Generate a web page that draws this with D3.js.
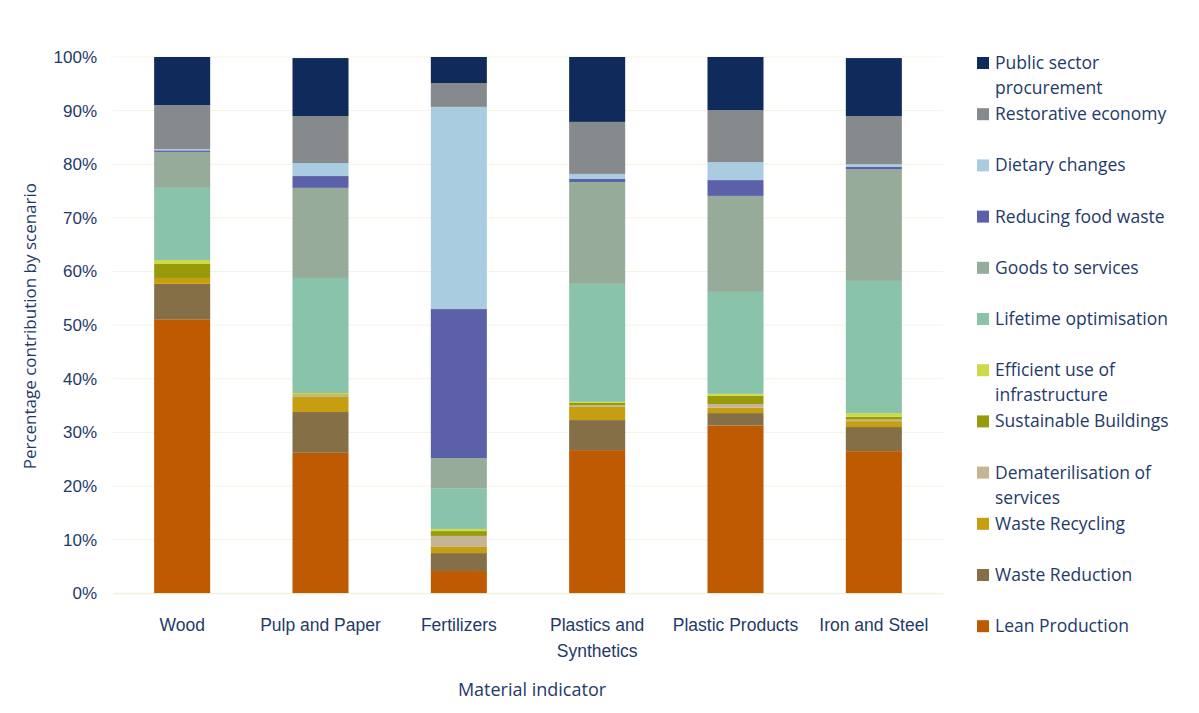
<!DOCTYPE html>
<html>
<head>
<meta charset="utf-8">
<script src="https://cdn.jsdelivr.net/npm/d3@7"></script>
<style>
  html, body { margin: 0; padding: 0; background: #ffffff; }
  svg { display: block; font-family: "Open Sans", Lato, sans-serif; }
</style>
</head>
<body>
<svg id="chart" width="1199" height="713"></svg>
<script>
// Material indicators on the x axis
const categories = ["Wood", "Pulp and Paper", "Fertilizers", "Plastics and Synthetics", "Plastic Products", "Iron and Steel"];

// Scenarios, stacked bottom to top
const scenarios = [
  "Lean Production", "Waste Reduction", "Waste Recycling", "Dematerilisation of services",
  "Sustainable Buildings", "Efficient use of infrastructure", "Lifetime optimisation",
  "Goods to services", "Reducing food waste", "Dietary changes", "Restorative economy",
  "Public sector procurement"
];

// Percentage contribution per scenario, one value per material indicator
const leanProduction        = [51.1, 26.2, 4.15, 26.7, 31.3, 26.5];
const wasteReduction        = [6.6, 7.6, 3.35, 5.6, 2.3, 4.5];
const wasteRecycling        = [1.1, 2.8, 1.15, 2.45, 1.0, 1.1];
const dematerialisation     = [0.0, 0.3, 2.05, 0.3, 0.7, 0.3];
const sustainableBuildings  = [2.6, 0.2, 0.9, 0.45, 1.5, 0.5];
const efficientInfra        = [0.75, 0.25, 0.4, 0.2, 0.4, 0.7];
const lifetimeOptimisation  = [13.45, 21.45, 7.6, 22.0, 19.0, 24.65];
const goodsToServices       = [6.7, 16.8, 5.6, 19.0, 17.9, 20.85];
const reducingFoodWaste     = [0.3, 2.2, 27.8, 0.55, 2.95, 0.4];
const dietaryChanges        = [0.25, 2.43, 37.7, 0.95, 3.35, 0.5];
const restorativeEconomy    = [8.2, 8.77, 4.45, 9.7, 9.7, 9.0];
const publicProcurement     = [8.95, 10.8, 4.85, 12.1, 9.9, 10.8];

// Y axis ticks
const yTicks = [0, 10, 20, 30, 40, 50, 60, 70, 80, 90, 100];

const seriesValues = [
  leanProduction, wasteReduction, wasteRecycling, dematerialisation,
  sustainableBuildings, efficientInfra, lifetimeOptimisation, goodsToServices,
  reducingFoodWaste, dietaryChanges, restorativeEconomy, publicProcurement
];

const colors = [
  "#BE5B02", "#856F47", "#C69E10", "#C6B594",
  "#979A0A", "#CDD94A", "#88C3AA", "#96AB9A",
  "#5B60A8", "#A9CCE0", "#868A8D", "#0F2B5B"
];

// Legend labels (line-broken where the text wraps)
const legendLines = {
  "Public sector procurement": ["Public sector", "procurement"],
  "Efficient use of infrastructure": ["Efficient use of", "infrastructure"],
  "Dematerilisation of services": ["Dematerilisation of", "services"]
};

const textColor = "#1F3A68";

const rows = categories.map((c, i) => {
  const r = { category: c };
  scenarios.forEach((s, j) => { r[s] = seriesValues[j][i]; });
  return r;
});

const stacked = d3.stack().keys(scenarios)(rows);

const svg = d3.select("#chart");
const margin = { left: 113, right: 256, top: 57, bottom: 120 };
const W = 1199, H = 713;

const x = d3.scaleBand()
  .domain(categories)
  .range([margin.left, W - margin.right])
  .paddingInner(0.595)
  .paddingOuter(0.2975);

const y = d3.scaleLinear()
  .domain([0, 100])
  .range([593.3, 57]);

// Gridlines
svg.append("g")
  .selectAll("line")
  .data(yTicks)
  .join("line")
  .attr("x1", margin.left)
  .attr("x2", W - margin.right)
  .attr("y1", d => y(d))
  .attr("y2", d => y(d))
  .attr("stroke", "#F4F4E2")
  .attr("stroke-width", 1);

// Stacked bars
svg.append("g")
  .selectAll("g")
  .data(stacked)
  .join("g")
  .attr("fill", (d, i) => colors[i])
  .selectAll("rect")
  .data(d => d)
  .join("rect")
  .attr("x", d => x(d.data.category))
  .attr("width", x.bandwidth())
  .attr("y", d => y(d[1]))
  .attr("height", d => Math.max(0, y(d[0]) - y(d[1])));

// Y axis
const yAxis = svg.append("g")
  .attr("transform", `translate(${margin.left},0)`)
  .call(d3.axisLeft(y).tickValues(yTicks).tickFormat(d => d + "%").tickSize(0).tickPadding(16));
yAxis.select(".domain").remove();
yAxis.selectAll("text")
  .attr("fill", textColor)
  .style("font-size", "17px");

// X axis
const xAxis = svg.append("g")
  .attr("transform", `translate(0,${y(0)})`)
  .call(d3.axisBottom(x).tickSize(0).tickPadding(0));
xAxis.select(".domain").attr("stroke", "#F0F0E0");
xAxis.selectAll("text").remove();
xAxis.selectAll(".tick").each(function (d) {
  const g = d3.select(this);
  const lines = d === "Plastics and Synthetics" ? ["Plastics and", "Synthetics"] : [d];
  lines.forEach((t, k) => {
    g.append("text")
      .attr("y", 38 + k * 26)
      .attr("text-anchor", "middle")
      .attr("fill", textColor)
      .style("font-size", "17.5px")
      .text(t);
  });
});

// Axis titles
svg.append("text")
  .attr("transform", `translate(36,${(y(0) + y(100)) / 2 + 1}) rotate(-90)`)
  .attr("text-anchor", "middle")
  .attr("fill", textColor)
  .style("font-size", "17px")
  .text("Percentage contribution by scenario");

svg.append("text")
  .attr("x", (margin.left + W - margin.right) / 2 + 4)
  .attr("y", 696)
  .attr("text-anchor", "middle")
  .attr("fill", textColor)
  .style("font-size", "18px")
  .text("Material indicator");

// Legend, top to bottom (reverse of stacking order)
const legendOrder = scenarios.map((s, i) => ({ name: s, color: colors[i] })).reverse();
const legend = svg.append("g");
const legendTop = 63, legendStep = 51.2;
legendOrder.forEach((item, i) => {
  const cy = legendTop + i * legendStep;
  legend.append("rect")
    .attr("x", 977)
    .attr("y", cy - 6)
    .attr("width", 12)
    .attr("height", 12)
    .attr("fill", item.color);
  const lines = legendLines[item.name] || [item.name];
  lines.forEach((t, k) => {
    legend.append("text")
      .attr("x", 995)
      .attr("y", cy + 6 + k * 25)
      .attr("fill", textColor)
      .style("font-size", "17.5px")
      .text(t);
  });
});
</script>
</body>
</html>
